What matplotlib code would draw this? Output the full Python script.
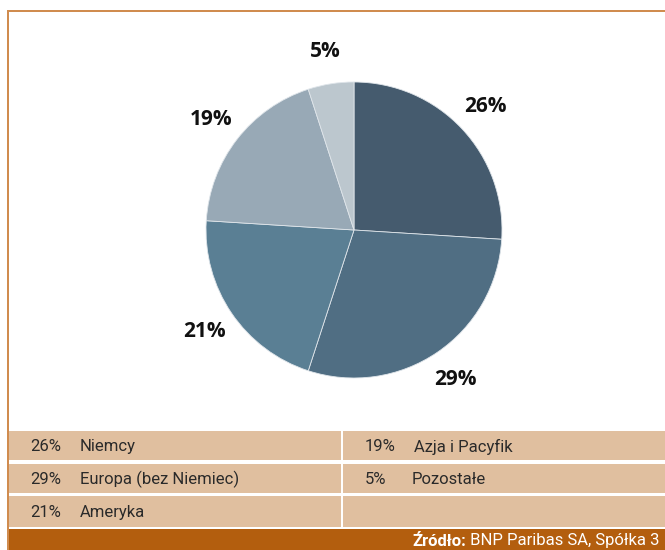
import matplotlib
matplotlib.use("Agg")
import matplotlib.pyplot as plt
from matplotlib.patches import Rectangle

categories = ["Niemcy", "Europa (bez Niemiec)", "Ameryka", "Azja i Pacyfik", "Pozostałe"]
values = [26, 29, 21, 19, 5]
colors = ["#455b6e", "#506e83", "#5a7f94", "#98a9b6", "#bcc7ce"]
source_bold = "Źródło:"
source_text = " BNP Paribas SA, Spółka 3"

W, H = 665, 550
fig = plt.figure(figsize=(W / 100, H / 100), dpi=100)
fig.patch.set_facecolor("white")

bg = fig.add_axes([0, 0, 1, 1])
bg.set_xlim(0, W)
bg.set_ylim(H, 0)
bg.axis("off")

border = "#d08c4f"
beige = "#e0bf9f"
bar = "#b35e0e"

# frame
bg.add_patch(Rectangle((6.5, 10), W, 2.2, color=border, lw=0))
bg.add_patch(Rectangle((6.5, 10), 2.2, H, color=border, lw=0))

# legend table
rows = [(431, 460), (463.5, 492.5), (496, 527)]
cols = [(8.5, 340.5), (343, W)]
for (y0, y1) in rows:
    for (x0, x1) in cols:
        bg.add_patch(Rectangle((x0, y0), x1 - x0, y1 - y0, color=beige, lw=0))
bg.add_patch(Rectangle((8.5, 529), W, H - 529, color=bar, lw=0))

legend_font = dict(family=["Roboto", "DejaVu Sans"], fontsize=12, color="#2a2a2a", va="center")
positions = [(0, 0), (1, 0), (2, 0), (0, 1), (1, 1)]
for (r, c), cat, v in zip(positions, categories, values):
    yc = (rows[r][0] + rows[r][1]) / 2 + 1
    xp = 30 if c == 0 else 365
    bg.text(xp, yc, f"{v}%", **legend_font)
    bg.text(xp + (50 if c == 0 else (49 if v >= 10 else 47)), yc, cat, **legend_font)

t2 = bg.text(660, 541, source_text, ha="right", va="center", color="white",
             fontsize=12, family=["Roboto", "DejaVu Sans"])
fig.canvas.draw()
bb = t2.get_window_extent()
inv = bg.transData.inverted()
xd, _ = inv.transform((bb.x0, 0))
bg.text(xd, 541, source_bold, ha="right", va="center", color="white",
        fontsize=12, fontweight="bold", family=["Roboto", "DejaVu Sans"])

# pie
cx, cy, R = 354, 230, 148
lim = 1.3
size = 2 * lim * R
ax = fig.add_axes([(cx - size / 2) / W, (H - cy - size / 2) / H, size / W, size / H])
wedges, texts = ax.pie(values, colors=colors, startangle=90, counterclock=False,
                       labels=[f"{v}%" for v in values], labeldistance=1.22,
                       wedgeprops=dict(edgecolor="#dfe5ea", linewidth=0.6),
                       textprops=dict(fontsize=15, family=["Open Sans", "DejaVu Sans"],
                                      fontweight="bold", color="#111111"))
for t in texts:
    t.set_ha("center")
    t.set_va("center")
ax.set_xlim(-lim, lim)
ax.set_ylim(-lim, lim)
ax.set_aspect("equal")
ax.axis("off")

fig.savefig("out.png", dpi=100, facecolor="white")
